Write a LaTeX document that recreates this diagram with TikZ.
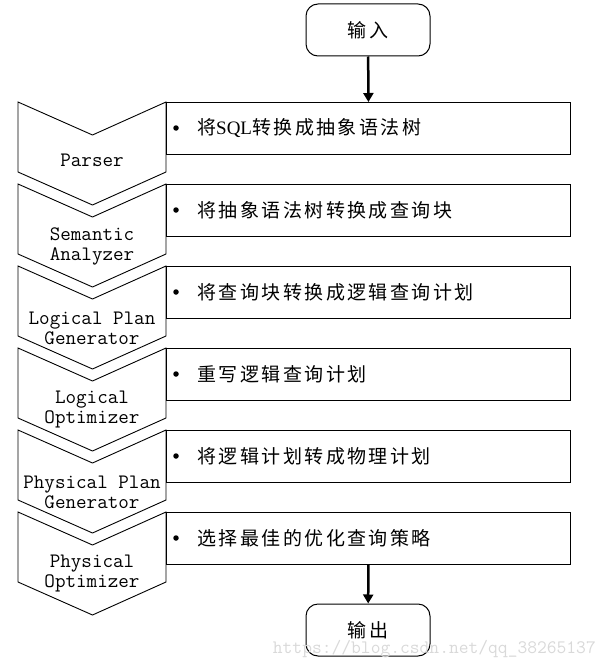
\documentclass[tikz,border=0pt]{standalone}
\usepackage{fontspec}
\newfontfamily\cjk[LetterSpace=13]{Noto Sans CJK SC}
\newfontfamily\latn{Liberation Serif}
\usetikzlibrary{arrows.meta}
\begin{document}
\begin{tikzpicture}[x=1pt,y=-1pt,
  chev/.style={draw, line width=0.9pt, line join=miter},
  rectbox/.style={draw, line width=1.2pt, minimum width=404pt, minimum height=52pt, inner sep=0pt, anchor=north west},
  lab/.style={font=\fontsize{20.5}{20}\selectfont\ttfamily, align=center, inner sep=0pt},
  desc/.style={font=\fontsize{19}{20}\selectfont\cjk, anchor=west, inner sep=0pt},
  dot/.style={circle, fill, inner sep=0pt, minimum size=5.5pt},
  term/.style={draw, rounded corners=12pt, line width=1pt, minimum width=124pt, minimum height=52pt, inner sep=0pt, font=\fontsize{19}{20}\selectfont\cjk},
  flow/.style={-{Triangle[length=9pt,width=10pt]}, line width=2.5pt}
]
\useasboundingbox (0,0) rectangle (604,669);
\node[term] (in) at (368,30) {输\,入};
\node[term] (out) at (368,630) {输\,出};
\foreach \i/\t/\lab/\ly/\txt in {
  1/102/{Parser}/160/{将{\latn SQL}转换成抽象语法树},
  2/184/{Semantic\\Analyzer}/246/{将抽象语法树转换成查询块},
  3/266/{Logical Plan\\Generator}/328/{将查询块转换成逻辑查询计划},
  4/348/{Logical\\Optimizer}/410/{重写逻辑查询计划},
  5/430/{Physical Plan\\Generator}/492/{将逻辑计划转成物理计划},
  6/512/{Physical\\Optimizer}/574/{选择最佳的优化查询策略}}{
  \draw[chev] (18,\t) -- (92.5,\t+33) -- (166,\t) -- (166,\t+70) -- (92.5,\t+103) -- (18,\t+70) -- cycle;
  \node[lab] (l\i) at (92,\ly) {\lab};
  \node[rectbox] (r\i) at (166,\t) {};
  \node[dot] (b\i) at (176,\t+26) {};
  \node[desc] (d\i) at (197,\t+26) {\txt};
}
\draw[flow] (in) -- (r1);
\draw[flow] (r6) -- (out);
\node[font=\fontsize{19}{19}\selectfont\ttfamily, text=gray!30, anchor=east, inner sep=0pt] (wm) at (596,649) {https://blog.csdn.net/qq\_38265137};
\end{tikzpicture}
\end{document}
